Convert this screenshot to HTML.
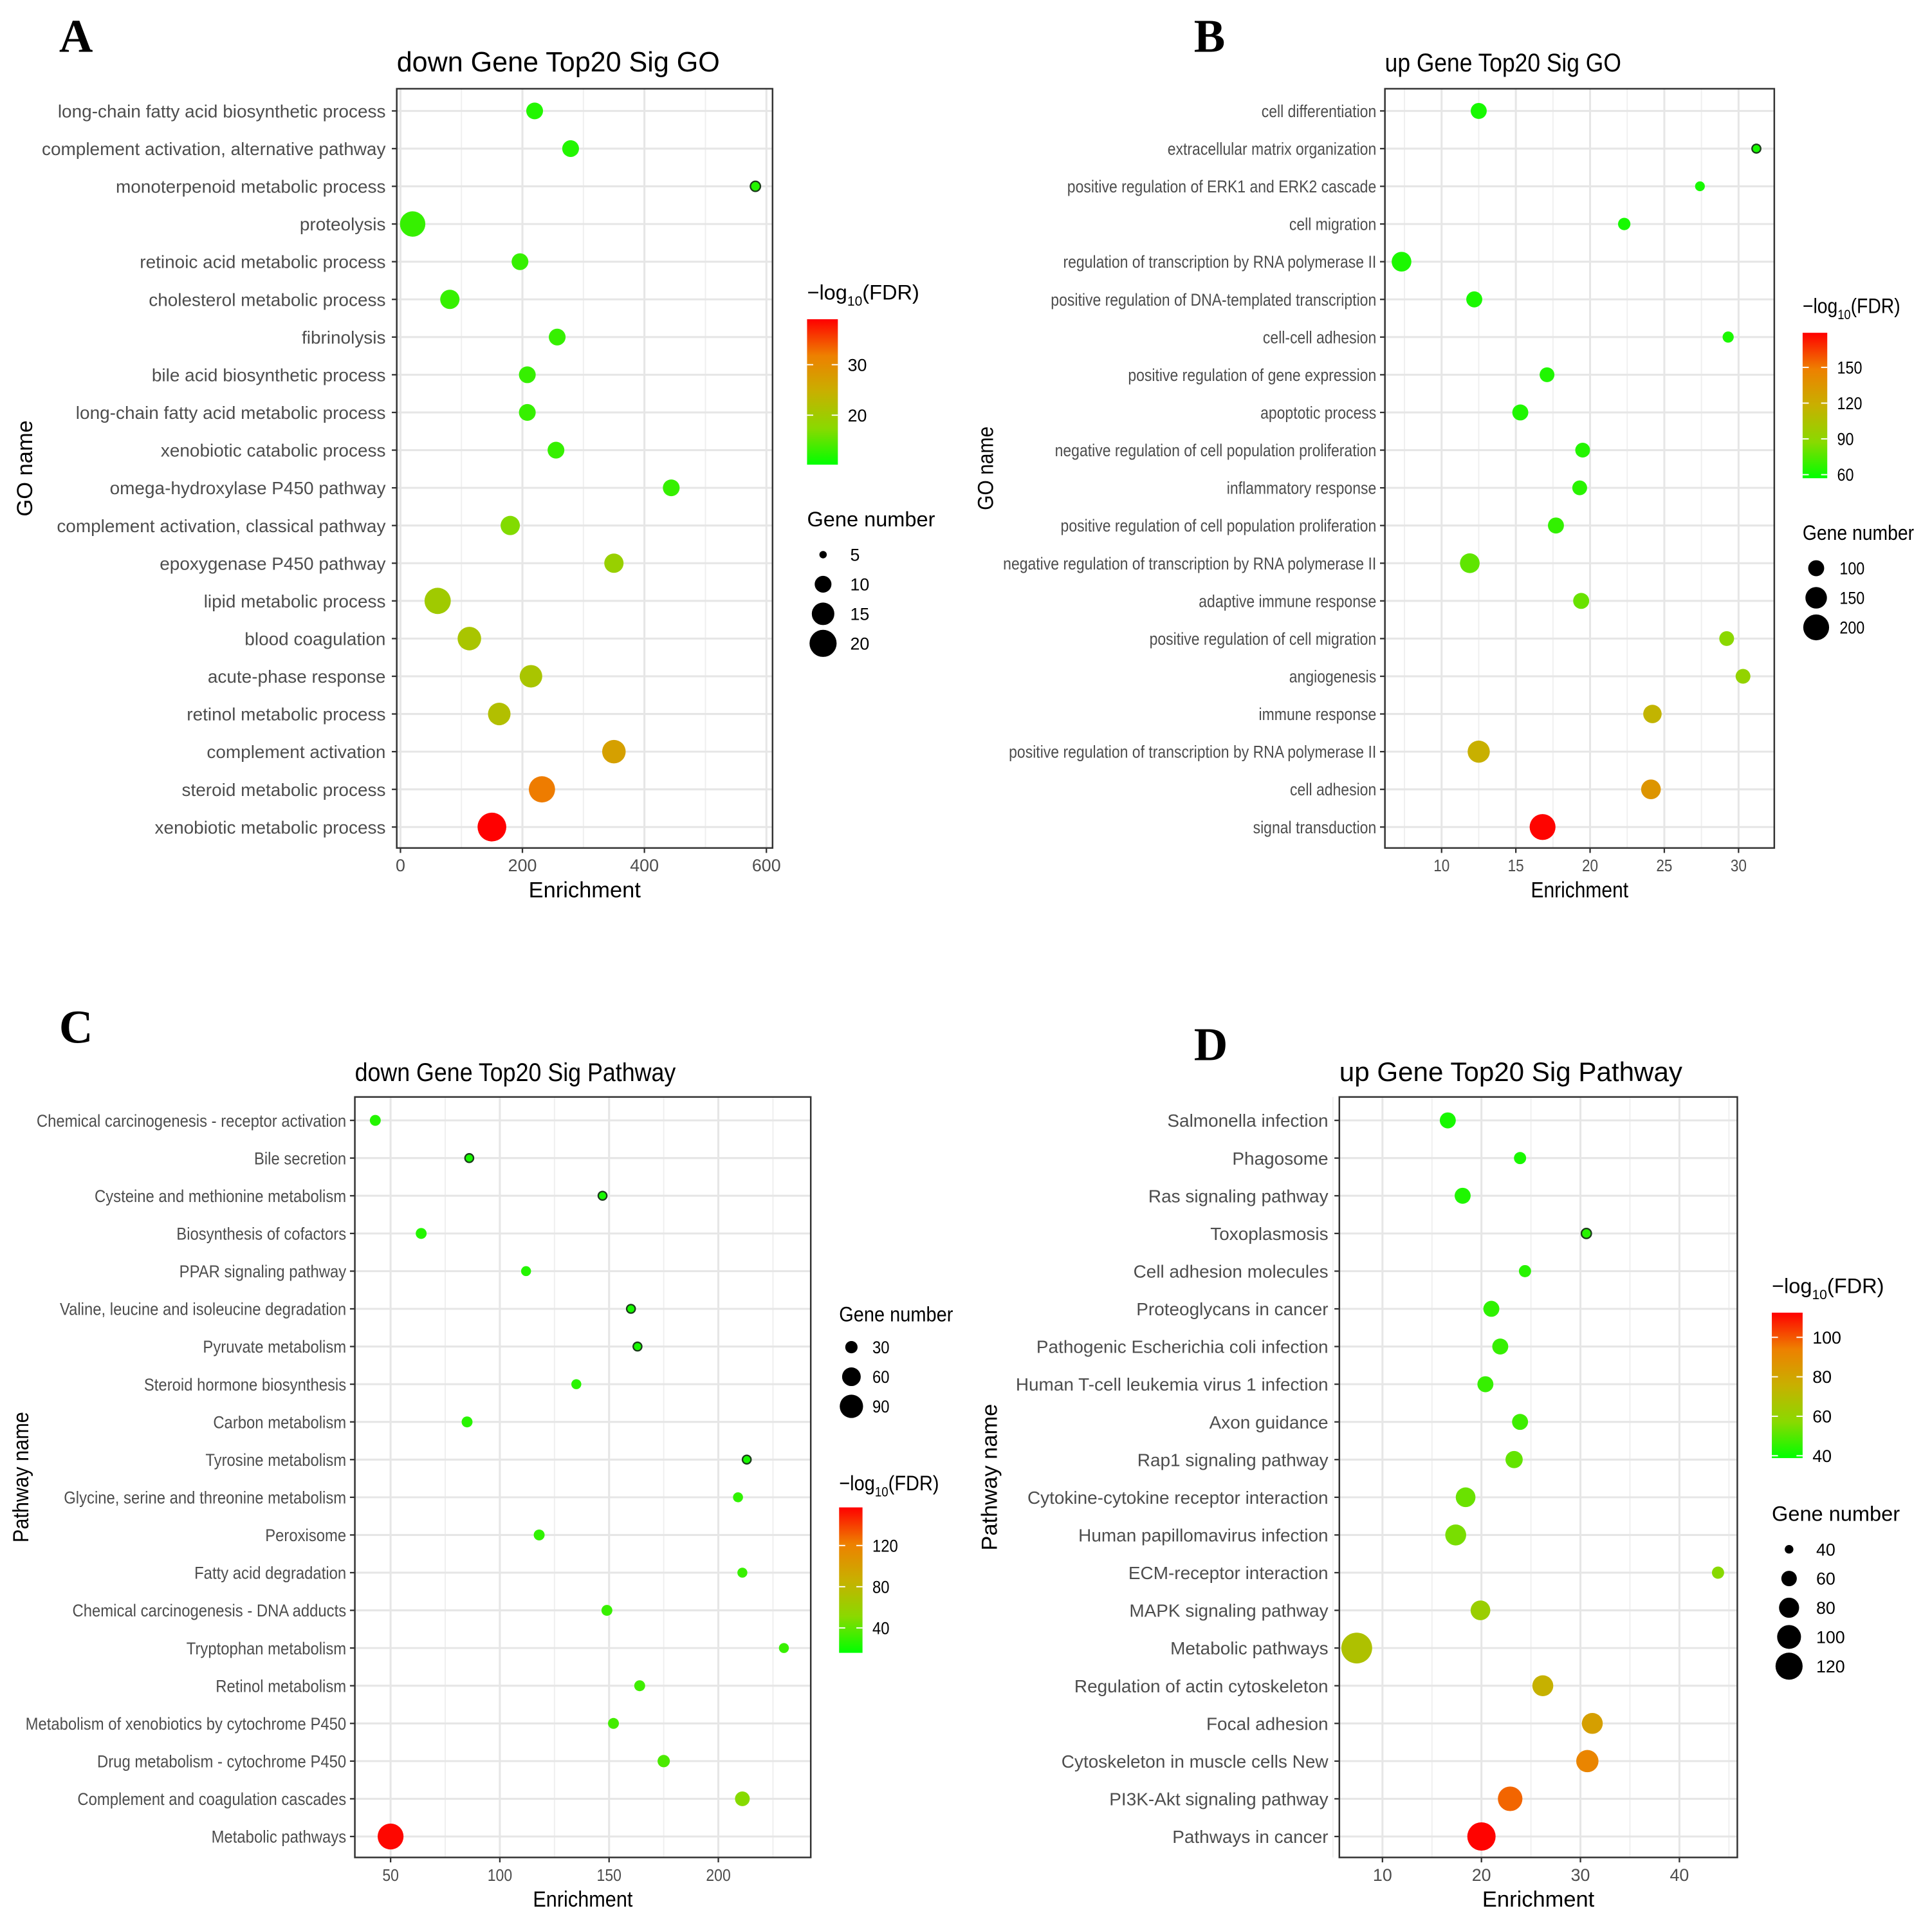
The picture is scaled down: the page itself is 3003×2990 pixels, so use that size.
<!DOCTYPE html>
<html><head><meta charset="utf-8"><style>
html,body{margin:0;padding:0;background:#fff;}
svg{display:block;font-family:"Liberation Sans",Arial,sans-serif;}
</style></head><body>
<svg id="fig" xmlns="http://www.w3.org/2000/svg" width="3003" height="2990" viewBox="0 0 1568 1561" preserveAspectRatio="none"></svg>
<script>
// ---------- Panel A data ----------
const aLabels=["long-chain fatty acid biosynthetic process","complement activation, alternative pathway","monoterpenoid metabolic process","proteolysis","retinoic acid metabolic process","cholesterol metabolic process","fibrinolysis","bile acid biosynthetic process","long-chain fatty acid metabolic process","xenobiotic catabolic process","omega-hydroxylase P450 pathway","complement activation, classical pathway","epoxygenase P450 pathway","lipid metabolic process","blood coagulation","acute-phase response","retinol metabolic process","complement activation","steroid metabolic process","xenobiotic metabolic process"];
const aEnrich=[220,279,582,20,196,81,257,208,208,255,444,180,350,61,113,214,162,350,232,150];
const aGenes=[10,10,6,18,10,12,10,10,10,10,10,12,12,19,16,15,15,16,19,22];
const aFdr=[12,12,12,13,13,13,13,13,13,13,13,17,19,20,21,21,22,27,32,39];
const aOutlined=[2];
const aXTicks=[0,200,400,600];
const aFdrTicks=[20,30];
const aSizeTicks=[5,10,15,20];
// ---------- Panel B data ----------
const bLabels=["cell differentiation","extracellular matrix organization","positive regulation of ERK1 and ERK2 cascade","cell migration","regulation of transcription by RNA polymerase II","positive regulation of DNA-templated transcription","cell-cell adhesion","positive regulation of gene expression","apoptotic process","negative regulation of cell population proliferation","inflammatory response","positive regulation of cell population proliferation","negative regulation of transcription by RNA polymerase II","adaptive immune response","positive regulation of cell migration","angiogenesis","immune response","positive regulation of transcription by RNA polymerase II","cell adhesion","signal transduction"];
const bEnrich=[12.5,31.2,27.4,22.3,7.3,12.2,29.3,17.1,15.3,19.5,19.3,17.7,11.9,19.4,29.2,30.3,24.2,12.5,24.1,16.8];
const bGenes=[100,56,61,75,132,100,68,91,100,91,91,100,132,100,91,91,120,157,132,200];
const bFdr=[62,62,62,62,63,63,63,64,64,65,66,68,78,80,88,92,115,118,135,178];
const bOutlined=[1];
const bXTicks=[10,15,20,25,30];
const bFdrTicks=[60,90,120,150];
const bSizeTicks=[100,150,200];
// ---------- Panel C data ----------
const cLabels=["Chemical carcinogenesis - receptor activation","Bile secretion","Cysteine and methionine metabolism","Biosynthesis of cofactors","PPAR signaling pathway","Valine, leucine and isoleucine degradation","Pyruvate metabolism","Steroid hormone biosynthesis","Carbon metabolism","Tyrosine metabolism","Glycine, serine and threonine metabolism","Peroxisome","Fatty acid degradation","Chemical carcinogenesis - DNA adducts","Tryptophan metabolism","Retinol metabolism","Metabolism of xenobiotics by cytochrome P450","Drug metabolism - cytochrome P450","Complement and coagulation cascades","Metabolic pathways"];
const cEnrich=[43,86,147,64,112,160,163,135,85,213,209,118,211,149,230,164,152,175,211,50];
const cGenes=[25,18,18,25,22,18,18,22,25,18,22,25,22,25,22,25,25,30,40,109];
const cFdr=[25,22,22,25,25,22,22,26,26,22,28,28,30,30,30,32,33,35,50,155];
const cOutlined=[1,2,5,6,9];
const cXTicks=[50,100,150,200];
const cFdrTicks=[40,80,120];
const cSizeTicks=[30,60,90];
// ---------- Panel D data ----------
const dLabels=["Salmonella infection","Phagosome","Ras signaling pathway","Toxoplasmosis","Cell adhesion molecules","Proteoglycans in cancer","Pathogenic Escherichia coli infection","Human T-cell leukemia virus 1 infection","Axon guidance","Rap1 signaling pathway","Cytokine-cytokine receptor interaction","Human papillomavirus infection","ECM-receptor interaction","MAPK signaling pathway","Metabolic pathways","Regulation of actin cytoskeleton","Focal adhesion","Cytoskeleton in muscle cells New","PI3K-Akt signaling pathway","Pathways in cancer"];
const dEnrich=[16.6,23.9,18.1,30.6,24.4,21,21.9,20.4,23.9,23.3,18.4,17.4,43.9,19.9,7.4,26.2,31.2,30.7,22.9,20];
const dGenes=[62,49,62,43,49,62,62,62,62,67,78,84,49,78,146,84,84,91,104,128];
const dFdr=[42,42,43,44,44,45,46,46,47,52,53,55,57,62,68,75,82,92,98,112];
const dOutlined=[3];
const dXTicks=[10,20,30,40];
const dFdrTicks=[40,60,80,100];
const dSizeTicks=[40,60,80,100,120];

const NS="http://www.w3.org/2000/svg";
const svg=document.getElementById('fig');
function el(tag,attrs,parent){const e=document.createElementNS(NS,tag);for(const k in attrs)e.setAttribute(k,attrs[k]);(parent||svg).appendChild(e);return e;}
function txt(s,x,y,size,anchor,fill,sx,parent){
  const t=el('text',{transform:`translate(${x},${y}) scale(${sx||1},1)`,'font-size':size,'text-anchor':anchor||'start',fill:fill||'#000'},parent);
  t.textContent=s;return t;}
const stops=[[0,[0,255,0]],[0.25,[138,217,0]],[0.5,[200,176,0]],[0.75,[238,128,0]],[1,[255,0,0]]];
function col(t){t=Math.max(0,Math.min(1,t));for(let i=1;i<stops.length;i++){if(t<=stops[i][0]){const a=stops[i-1],b=stops[i];const f=(t-a[0])/(b[0]-a[0]);const c=a[1].map((v,j)=>Math.round(v+(b[1][j]-v)*f));return `rgb(${c.join(',')})`;}}return 'rgb(255,0,0)';}
let gid=0;
function fdrTitle(x,y,sx,g){
  const t=el('text',{transform:`translate(${x},${y}) scale(${sx},1)`,'font-size':17,fill:'#000'},g);
  
  const a=el('tspan',{},t);a.textContent='\u2212log';
  const b=el('tspan',{'font-size':11,dy:5},t);b.textContent='10';
  const c=el('tspan',{dy:-5},t);c.textContent='(FDR)';
}
function panel(P){
  const g=el('g',{});
  
  
  const [L,T,R,B]=P.box;
  const xs=v=>P.p0+(v-P.d0)*(P.p1-P.p0)/(P.d1-P.d0);
  const ys=i=>P.y0+i*(P.y1-P.y0)/(P.labels.length-1);
  const rs=n=>Math.sqrt(Math.max(1,P.r0*P.r0+P.k*(n-P.n0)));
  const cs=v=>col((v-P.lo)/(P.hi-P.lo));
  const lt=el('text',{x:P.letter[0],y:P.letter[1],'font-size':38,'font-weight':'bold','font-family':'"Liberation Serif",serif'},g);
  lt.textContent=P.letterText;
  const tt=txt(P.title,L,P.titleY,P.titleSize,'start','#000',P.tsx,g);
  
  el('rect',{x:L,y:T,width:R-L,height:B-T,fill:'#fff'},g);
  P.minor.forEach(v=>{const l=el('line',{x1:xs(v),x2:xs(v),y1:T,y2:B,stroke:'#efefef','stroke-width':1},g);});
  P.ticks.forEach(v=>{const l=el('line',{x1:xs(v),x2:xs(v),y1:T,y2:B,stroke:'#e6e6e6','stroke-width':1.6},g);});
  P.labels.forEach((s,i)=>{const y=ys(i);
    const l=el('line',{x1:L,x2:R,y1:y,y2:y,stroke:'#e6e6e6','stroke-width':1.6},g);
    el('line',{x1:L-4,x2:L,y1:y,y2:y,stroke:'#333','stroke-width':1.2},g);
    const t=txt(s,P.labelX,y+P.labelSize*0.36,P.labelSize,'end','#4d4d4d',P.sx,g);
    
  });
  P.labels.forEach((s,i)=>{
    const c=el('circle',{cx:xs(P.enrich[i]),cy:ys(i),r:rs(P.genes[i]),fill:cs(P.fdr[i])},g);
    if(P.outlined.includes(i)){c.setAttribute('stroke','#1a3a1a');c.setAttribute('stroke-width',1.2);}
    
    
  });
  el('rect',{x:L,y:T,width:R-L,height:B-T,fill:'none',stroke:'#333','stroke-width':1.3},g);
  P.ticks.forEach(v=>{el('line',{x1:xs(v),x2:xs(v),y1:B,y2:B+4,stroke:'#333','stroke-width':1.2},g);
    const t=txt(String(v),xs(v),B+19,P.tickSize,'middle','#4d4d4d',P.sx,g);});
  const xt=txt('Enrichment',(L+R)/2,B+40,18,'middle','#000',P.sx,g);
  const yt=el('text',{transform:`translate(${P.yTitleX},${(T+B)/2}) rotate(-90) scale(${P.sx},1)`,'font-size':18,'text-anchor':'middle'},g);
  yt.textContent=P.yTitle;
  const F=P.fdrLeg;fdrTitle(F.x,F.ty,P.sx,g);
  const id='grad'+(gid++);
  const defs=el('defs',{},g);const lg=el('linearGradient',{id:id,x1:0,y1:1,x2:0,y2:0},defs);
  stops.forEach(s=>el('stop',{offset:s[0],'stop-color':`rgb(${s[1].join(',')})`},lg));
  const bar=el('rect',{x:F.x,y:F.by,width:F.w,height:F.h,fill:`url(#${id})`},g);
  
  const bs=v=>F.by+F.h-(v-P.lo)/(P.hi-P.lo)*F.h;
  P.fdrTicks.forEach(v=>{const y=bs(v);
    el('line',{x1:F.x,x2:F.x+5,y1:y,y2:y,stroke:'#fff','stroke-width':1},g);
    el('line',{x1:F.x+F.w-5,x2:F.x+F.w,y1:y,y2:y,stroke:'#fff','stroke-width':1},g);
    const t=txt(String(v),F.x+F.w+8,y+5,14,'start','#000',P.sx,g);});
  const S=P.sizeLeg;
  const st=txt('Gene number',S.x,S.ty,17,'start','#000',P.sx,g);
  P.sizeTicks.forEach((n,i)=>{const y=S.y0+i*S.step;
    const c=el('circle',{cx:S.cx,cy:y,r:rs(n),fill:'#000'},g);
    const t=txt(String(n),S.lx,y+5,14,'start','#000',P.sx,g);});
}
panel({name:'panel-a',letterText:'A',letter:[48,42],title:'down Gene Top20 Sig GO',titleY:58,titleSize:22.5,tsx:1,sx:1,
  box:[322,72,627,688],d0:0,d1:600,p0:325,p1:622,y0:90,y1:671,ticks:aXTicks,minor:[100,300,500],
  labels:aLabels,enrich:aEnrich,genes:aGenes,fdr:aFdr,outlined:aOutlined,labelX:313,labelSize:14.6,tickSize:14,
  yTitle:'GO name',yTitleX:26,r0:3,n0:5,k:7.47,lo:10.2,hi:39,fdrTicks:aFdrTicks,sizeTicks:aSizeTicks,
  fdrLeg:{x:655,ty:243,by:259,w:25,h:118},sizeLeg:{x:655,ty:427,y0:450,step:24,cx:668,lx:690}});
panel({name:'panel-b',letterText:'B',letter:[969,42],title:'up Gene Top20 Sig GO',titleY:58,titleSize:21,tsx:0.88,sx:0.87,
  box:[1124,72,1440,688],d0:10,d1:30,p0:1170,p1:1411,y0:90,y1:671,ticks:bXTicks,minor:[7.5,12.5,17.5,22.5,27.5],
  labels:bLabels,enrich:bEnrich,genes:bGenes,fdr:bFdr,outlined:bOutlined,labelX:1117,labelSize:13.8,tickSize:13.5,
  yTitle:'GO name',yTitleX:806,r0:6.5,n0:100,k:0.68,lo:57,hi:179,fdrTicks:bFdrTicks,sizeTicks:bSizeTicks,
  fdrLeg:{x:1463,ty:254,by:270,w:20,h:118},sizeLeg:{x:1463,ty:438,y0:461,step:24,cx:1474,lx:1493}});
panel({name:'panel-c',letterText:'C',letter:[48,846],title:'down Gene Top20 Sig Pathway',titleY:877,titleSize:21,tsx:0.89,sx:0.89,
  box:[288,890,658,1507],d0:50,d1:200,p0:317,p1:583,y0:909,y1:1490,ticks:cXTicks,minor:[75,125,175,225],
  labels:cLabels,enrich:cEnrich,genes:cGenes,fdr:cFdr,outlined:cOutlined,labelX:281,labelSize:14,tickSize:13.5,
  yTitle:'Pathway name',yTitleX:23,r0:5,n0:30,k:1.08,lo:15.8,hi:157,fdrTicks:cFdrTicks,sizeTicks:cSizeTicks,
  fdrLeg:{x:681,ty:1209,by:1223,w:19,h:118},sizeLeg:{x:681,ty:1072,y0:1093,step:24,cx:691,lx:708}});
panel({name:'panel-d',letterText:'D',letter:[969,860],title:'up Gene Top20 Sig Pathway',titleY:877,titleSize:22,tsx:1,sx:1,
  box:[1087,890,1410,1507],d0:10,d1:40,p0:1122,p1:1363,y0:909,y1:1490,ticks:dXTicks,minor:[5,15,25,35,45],
  labels:dLabels,enrich:dEnrich,genes:dGenes,fdr:dFdr,outlined:dOutlined,labelX:1078,labelSize:14.6,tickSize:14,
  yTitle:'Pathway name',yTitleX:809,r0:3.5,n0:40,k:1.36,lo:38.8,hi:112.5,fdrTicks:dFdrTicks,sizeTicks:dSizeTicks,
  fdrLeg:{x:1438,ty:1049,by:1065,w:25,h:118},sizeLeg:{x:1438,ty:1234,y0:1257,step:23.7,cx:1452,lx:1474}});
</script>
</body></html>
